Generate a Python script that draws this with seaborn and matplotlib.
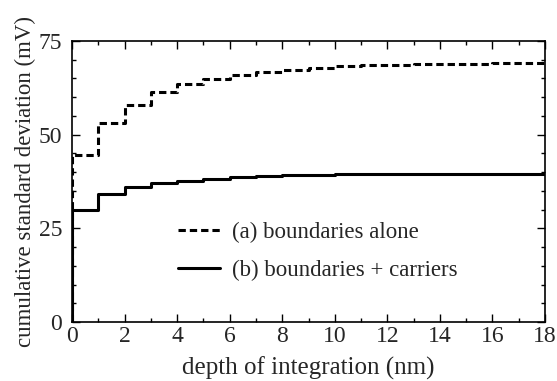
import matplotlib
matplotlib.use("Agg")
import matplotlib.pyplot as plt
import seaborn as sns
import pandas as pd
from matplotlib.ticker import MultipleLocator

depth = [0, 0, 1, 2, 3, 4, 5, 6, 7, 8, 9, 10, 11, 12, 13, 14, 15, 16, 17, 18]
alone = [0, 44.6, 53.2, 57.9, 61.3, 63.5, 64.8, 65.9, 66.6, 67.3, 67.8, 68.2, 68.5, 68.7, 68.8, 68.9, 68.9, 69.0, 69.0, 69.0]
carriers = [0, 29.9, 34.1, 35.9, 37.0, 37.7, 38.3, 38.8, 39.0, 39.2, 39.3, 39.4, 39.4, 39.4, 39.4, 39.4, 39.4, 39.4, 39.4, 39.4]
labels = ["(a) boundaries alone", "(b) boundaries + carriers"]

sns.set_style("ticks")
plt.rcParams['font.family'] = ['Liberation Serif', 'DejaVu Serif']

fig = plt.figure(figsize=(5.57, 3.81), dpi=100)
ax = fig.add_axes([72/557, 1-322/381, (545-72)/557, (322-41)/381])

sns.lineplot(x=depth, y=alone, estimator=None, sort=False, ax=ax,
             drawstyle='steps-post', color='black', linewidth=2.2,
             dashes=False, label=labels[0])
ax.lines[-1].set_linestyle((0, (2.4, 1.3)))
sns.lineplot(x=depth, y=carriers, estimator=None, sort=False, ax=ax,
             drawstyle='steps-post', color='black', linewidth=2.2,
             label=labels[1])

ax.set_xlim(0, 18)
ax.set_ylim(0, 75)
ax.xaxis.set_major_locator(MultipleLocator(2))
ax.xaxis.set_minor_locator(MultipleLocator(1))
ax.yaxis.set_major_locator(MultipleLocator(25))
ax.yaxis.set_minor_locator(MultipleLocator(5))
ax.tick_params(which='both', direction='in', top=True, right=True, width=1.0, color='black')
ax.tick_params(which='major', length=6, labelsize=17)
ax.tick_params(axis='x', which='major', pad=3)
ax.tick_params(axis='y', which='major', pad=7)
ax.tick_params(which='minor', length=3)
for s in ax.spines.values():
    s.set_linewidth(1.2)
    s.set_color('black')

ax.set_xlabel("depth of integration (nm)", fontsize=18, labelpad=7)
ax.set_ylabel("cumulative standard deviation (mV)", fontsize=16.5, labelpad=2)

ax.legend(loc='upper left', bbox_to_anchor=((178-72)/473, (322-222)/281),
          frameon=False, fontsize=16.5, handlelength=1.85, handletextpad=0.5,
          labelspacing=0.72, borderaxespad=0, borderpad=0)

fig.savefig("out.png", dpi=100)
